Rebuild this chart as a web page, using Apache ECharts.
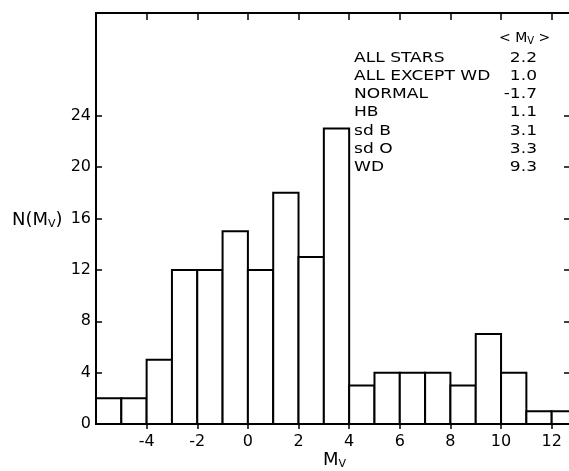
<!DOCTYPE html>
<html>
<head>
<meta charset="utf-8">
<script src="https://cdn.jsdelivr.net/npm/echarts/dist/echarts.min.js"></script>
<style>
html,body{margin:0;padding:0;background:#fff;}
#chart{width:569px;height:471px;}
</style>
</head>
<body>
<div id="chart"></div>
<script>
// Histogram bins (lower edge of each 1-mag bin) and counts
var binLo = [-6, -5, -4, -3, -2, -1, 0, 1, 2, 3, 4, 5, 6, 7, 8, 9, 10, 11, 12];
var counts = [2, 2, 5, 12, 12, 15, 12, 18, 13, 23, 3, 4, 4, 4, 3, 7, 4, 1, 1];
var binWidth = 1;
// Axis tick values
var xTicks = [-4, -2, 0, 2, 4, 6, 8, 10, 12];
var yTicks = [0, 4, 8, 12, 16, 20, 24];
// Mean absolute magnitude table
var statLabels = ['ALL STARS', 'ALL EXCEPT WD', 'NORMAL', 'HB', 'sd B', 'sd O', 'WD'];
var statValues = ['2.2', '1.0', '-1.7', '1.1', '3.1', '3.3', '9.3'];

var FONT = 'DejaVu Sans';
var chart = echarts.init(document.getElementById('chart'));

var data = binLo.map(function (lo, i) { return [lo, lo + binWidth, counts[i]]; });

var SX = 1.22;
var graphics = [];
graphics.push({
  type: 'text', x: 499, y: 38,
  style: { text: '< M{s|V} >', font: '14px ' + FONT, fill: '#000', verticalAlign: 'middle',
    rich: { s: { fontSize: 10, fontFamily: FONT, padding: [6, 0, 0, 0] } } }
});
statLabels.forEach(function (lab, i) {
  graphics.push({ type: 'text', x: 354, y: 58.5 + i * 18.1, scaleX: SX,
    style: { text: lab, font: '14px ' + FONT, fill: '#000', verticalAlign: 'middle', textAlign: 'left' } });
  graphics.push({ type: 'text', x: 537, y: 58.5 + i * 18.1, scaleX: SX,
    style: { text: statValues[i], font: '14px ' + FONT, fill: '#000', verticalAlign: 'middle', textAlign: 'right' } });
});
graphics.push({
  type: 'text', x: 12, y: 220,
  style: { text: 'N(M{s|V})', font: '18px ' + FONT, fill: '#000', verticalAlign: 'middle',
    rich: { s: { fontSize: 11, fontFamily: FONT, padding: [9, 0, 0, 0] } } }
});
graphics.push({
  type: 'text', x: 323, y: 460,
  style: { text: 'M{s|V}', font: '18px ' + FONT, fill: '#000', verticalAlign: 'middle',
    rich: { s: { fontSize: 11, fontFamily: FONT, padding: [9, 0, 0, 0] } } }
});

var axLine = { show: true, onZero: false, lineStyle: { color: '#000', width: 2 } };
var tickStyle = { color: '#000', width: 1.5 };
var option = {
  backgroundColor: '#fff',
  animation: false,
  grid: { left: 96, width: 481, top: 13, height: 411, outerBoundsMode: 'none', containLabel: false },
  xAxis: [
    { type: 'value', position: 'bottom', min: -6, max: 13, interval: 2,
      axisLine: axLine, splitLine: { show: false },
      axisTick: { show: true, inside: false, length: 5, lineStyle: tickStyle, customValues: xTicks },
      axisLabel: { color: '#000', fontSize: 16, fontFamily: FONT, margin: 10, customValues: xTicks } },
    { type: 'value', position: 'top', min: -6, max: 13, interval: 2,
      axisLine: axLine, splitLine: { show: false },
      axisTick: { show: true, inside: true, length: 7, lineStyle: tickStyle, customValues: xTicks },
      axisLabel: { show: false } }
  ],
  yAxis: [
    { type: 'value', position: 'left', min: 0, max: 32, interval: 4,
      axisLine: axLine, splitLine: { show: false },
      axisTick: { show: true, inside: true, length: 6, lineStyle: tickStyle, customValues: yTicks },
      axisLabel: { color: '#000', fontSize: 16, fontFamily: FONT, margin: 5, customValues: yTicks } },
    { type: 'value', position: 'right', min: 0, max: 32, interval: 4,
      axisLine: axLine, splitLine: { show: false },
      axisTick: { show: true, inside: true, length: 13, lineStyle: tickStyle, customValues: yTicks },
      axisLabel: { show: false } }
  ],
  graphic: graphics,
  series: [{
    type: 'custom',
    xAxisIndex: 0, yAxisIndex: 0,
    encode: { x: [0, 1], y: 2 },
    data: data,
    renderItem: function (params, api) {
      var p0 = api.coord([api.value(0), api.value(2)]);
      var p1 = api.coord([api.value(1), 0]);
      return { type: 'rect',
        shape: { x: p0[0], y: p0[1], width: p1[0] - p0[0], height: p1[1] - p0[1] },
        style: { fill: '#fff', stroke: '#000', lineWidth: 2 } };
    }
  }]
};
chart.setOption(option);
</script>
</body>
</html>
